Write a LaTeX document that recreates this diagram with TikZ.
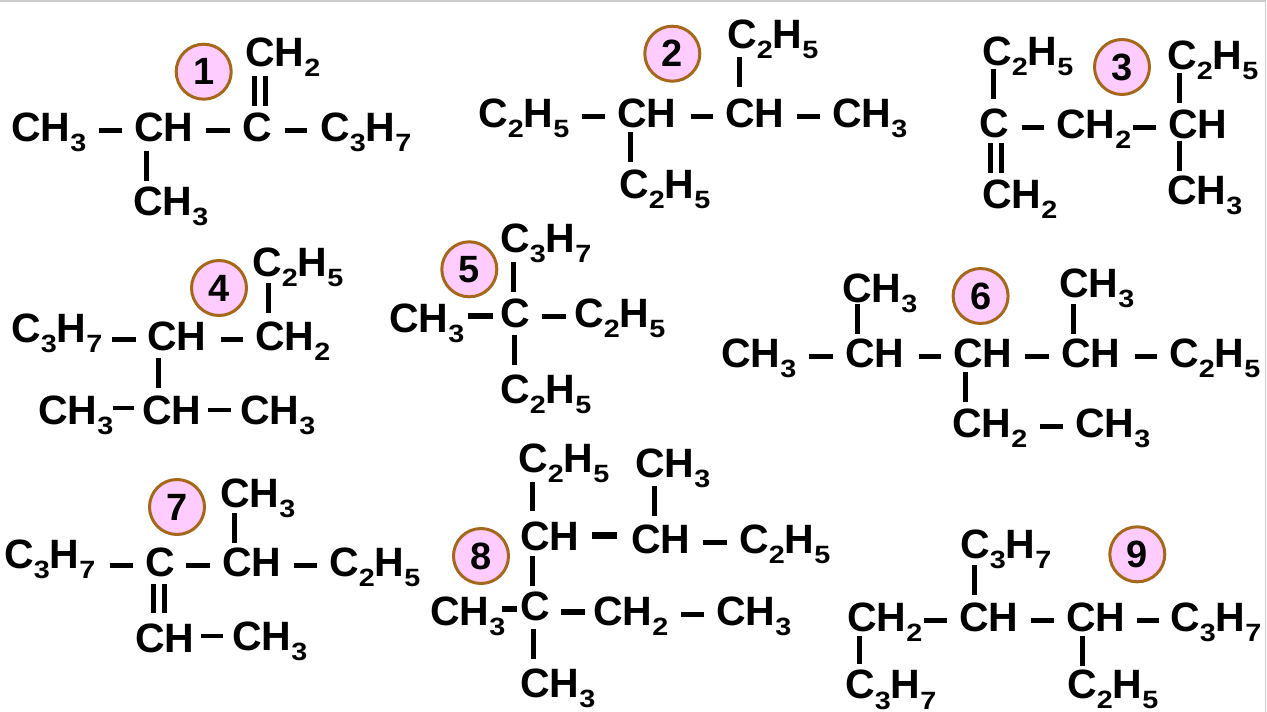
\documentclass[tikz,border=0pt]{standalone}
\usepackage{fontspec}
\setmainfont{Liberation Sans}
\definecolor{badgefill}{HTML}{FFCCFF}
\definecolor{badgeedge}{HTML}{A5681B}
\newcommand{\ssub}[1]{\raisebox{-10.5pt}{\fontsize{25}{25}\selectfont\scalebox{1.15}[1]{#1}}}
\begin{document}
\begin{tikzpicture}[x=1pt, y=-1pt,
    chem/.style={inner sep=0pt, anchor=base west, text height=22pt, text depth=0pt, font=\fontsize{41}{44}\selectfont\bfseries},
    badge/.style={circle, draw=badgeedge, fill=badgefill, line width=3pt, minimum size=55pt, inner sep=0pt, font=\fontsize{38}{42}\selectfont\bfseries},
    hbond/.style={line width=5pt, shorten <=12.5pt, shorten >=12pt},
    vbond/.style={line width=5pt},
    dbond/.style={line width=5pt, double=white, double distance=6pt}
]
    \useasboundingbox (0,0) rectangle (1267,712);
    \draw[black!20, line width=1.2pt] (0,1) -- (1265.5,1) -- (1265.5,712);

    % Molecule 1
    \node[badge] (b1) at (203.7,71.7) {1};
    \node[chem] (m1left) at (11,141) {CH\ssub{3}};
    \node[chem] (m1ch) at (134,141) {CH};
    \node[chem] (m1c) at (242,141) {C};
    \node[chem] (m1right) at (320,141) {C\ssub{3}H\ssub{7}};
    \node[chem] (m1top) at (245,66) {CH\ssub{2}};
    \node[chem] (m1low) at (133,215) {CH\ssub{3}};
    \draw[hbond] (m1left.east) -- (m1ch.west);
    \draw[hbond] (m1ch.east) -- (m1c.west);
    \draw[hbond, shorten >=13pt] (m1c.east) -- (m1right.west);
    \draw[dbond, shorten <=10pt, shorten >=13pt] ([xshift=15pt]m1top.south west) -- ([xshift=15pt]m1top.south west |- m1c.north);
    \draw[vbond, shorten <=10pt, shorten >=12pt] ([xshift=12pt]m1ch.south west) -- ([xshift=12pt]m1ch.south west |- m1low.north);

    % Molecule 2
    \node[badge] (b2) at (672.3,53.7) {2};
    \node[chem] (m2left) at (478,127) {C\ssub{2}H\ssub{5}};
    \node[chem] (m2cha) at (617,127) {CH};
    \node[chem] (m2chb) at (725,127) {CH};
    \node[chem] (m2right) at (832,127) {CH\ssub{3}};
    \node[chem] (m2top) at (727,48) {C\ssub{2}H\ssub{5}};
    \node[chem] (m2low) at (619,198) {C\ssub{2}H\ssub{5}};
    \draw[hbond] (m2left.east) -- (m2cha.west);
    \draw[hbond, shorten <=14pt] (m2cha.east) -- (m2chb.west);
    \draw[hbond] (m2chb.east) -- (m2right.west);
    \draw[vbond, shorten <=9pt, shorten >=18pt] ([xshift=12pt]m2top.south west) -- ([xshift=12pt]m2top.south west |- m2chb.north);
    \draw[vbond, shorten <=5pt, shorten >=14pt] ([xshift=13pt]m2cha.south west) -- ([xshift=13pt]m2cha.south west |- m2low.north);

    % Molecule 3
    \node[badge] (b3) at (1122,67) {3};
    \node[chem] (m3topa) at (982,65) {C\ssub{2}H\ssub{5}};
    \node[chem] (m3topb) at (1167,69) {C\ssub{2}H\ssub{5}};
    \node[chem] (m3c) at (979,137) {C};
    \node[chem] (m3mid) at (1056,138) {CH\ssub{2}};
    \node[chem] (m3ch) at (1168,138) {CH};
    \node[chem] (m3right) at (1167,204) {CH\ssub{3}};
    \node[chem] (m3low) at (982,208) {CH\ssub{2}};
    \draw[hbond] (m3mid.west -| m3c.east) -- (m3mid.west);
    \draw[hbond, shorten <=1pt] (m3mid.east) -- (m3ch.west);
    \draw[vbond, shorten <=4pt, shorten >=16pt] ([xshift=11pt]m3topa.south west) -- ([xshift=11pt]m3topa.south west |- m3c.north);
    \draw[vbond, shorten <=4pt, shorten >=13pt] ([xshift=12pt]m3topb.south west) -- ([xshift=12pt]m3topb.south west |- m3ch.north);
    \draw[vbond, shorten <=3pt, shorten >=11pt] ([xshift=11pt]m3ch.south west) -- ([xshift=11pt]m3ch.south west |- m3right.north);
    \draw[dbond, shorten <=6pt, shorten >=13pt] ([xshift=17pt]m3c.south west) -- ([xshift=17pt]m3c.south west |- m3low.north);

    % Molecule 4
    \node[badge] (b4) at (219,288) {4};
    \node[chem] (m4top) at (252,276) {C\ssub{2}H\ssub{5}};
    \node[chem] (m4left) at (11,342) {C\ssub{3}H\ssub{7}};
    \node[chem] (m4ch) at (147,350) {CH};
    \node[chem] (m4mid) at (255,350) {CH\ssub{2}};
    \node[chem] (m4lowa) at (38,424) {CH\ssub{3}};
    \node[chem] (m4lowb) at (142,424) {CH};
    \node[chem] (m4lowc) at (240,424) {CH\ssub{3}};
    \draw[hbond, shorten <=9pt, shorten >=11pt] (m4ch.west -| m4left.east) -- (m4ch.west);
    \draw[hbond, shorten <=14pt] (m4ch.east) -- (m4mid.west);
    \draw[hbond, line width=4pt, shorten <=-1pt, shorten >=8pt] ([yshift=5pt]m4lowa.east) -- ([yshift=5pt]m4lowb.west);
    \draw[hbond, line width=4pt, shorten <=6pt, shorten >=9pt] ([yshift=3pt]m4lowb.east) -- ([yshift=3pt]m4lowc.west);
    \draw[vbond, shorten <=7pt, shorten >=15pt] ([xshift=16pt]m4top.south west) -- ([xshift=16pt]m4top.south west |- m4mid.north);
    \draw[vbond, shorten <=8pt, shorten >=14pt] ([xshift=11pt]m4ch.south west) -- ([xshift=11pt]m4ch.south west |- m4lowb.north);

    % Molecule 5
    \node[badge] (b5) at (469.3,269.3) {5};
    \node[chem] (m5top) at (500,252) {C\ssub{3}H\ssub{7}};
    \node[chem] (m5left) at (389,332) {CH\ssub{3}};
    \node[chem] (m5c) at (500,327) {C};
    \node[chem] (m5right) at (574,327) {C\ssub{2}H\ssub{5}};
    \node[chem] (m5low) at (500,403) {C\ssub{2}H\ssub{5}};
    \draw[hbond, line width=6pt, shorten <=3pt, shorten >=7pt] (m5c.west -| m5left.east) -- (m5c.west);
    \draw[hbond, shorten <=12pt, shorten >=8pt] (m5c.east) -- (m5right.west);
    \draw[vbond, shorten <=10pt, shorten >=13pt] ([xshift=13pt]m5top.south west) -- ([xshift=13pt]m5top.south west |- m5c.north);
    \draw[vbond, shorten <=8pt, shorten >=16pt] ([xshift=14pt]m5c.south west) -- ([xshift=14pt]m5c.south west |- m5low.north);

    % Molecule 6
    \node[badge] (b6) at (980.6,296) {6};
    \node[chem] (m6topa) at (842,302) {CH\ssub{3}};
    \node[chem] (m6topb) at (1059,297) {CH\ssub{3}};
    \node[chem] (m6left) at (721,367) {CH\ssub{3}};
    \node[chem] (m6cha) at (845,367) {CH};
    \node[chem] (m6chb) at (953,367) {CH};
    \node[chem] (m6chc) at (1061,367) {CH};
    \node[chem] (m6right) at (1169,367) {C\ssub{2}H\ssub{5}};
    \node[chem] (m6lowa) at (952,437) {CH\ssub{2}};
    \node[chem] (m6lowb) at (1075,437) {CH\ssub{3}};
    \draw[hbond] (m6left.east) -- (m6cha.west);
    \draw[hbond, shorten <=14pt] (m6cha.east) -- (m6chb.west);
    \draw[hbond] (m6chb.east) -- (m6chc.west);
    \draw[hbond, shorten <=14pt] (m6chc.east) -- (m6right.west);
    \draw[hbond] (m6lowa.east) -- (m6lowb.west);
    \draw[vbond, shorten <=2pt, shorten >=11pt] ([xshift=15.5pt]m6topa.south west) -- ([xshift=15.5pt]m6topa.south west |- m6cha.north);
    \draw[vbond, shorten <=7pt, shorten >=11pt] ([xshift=14pt]m6topb.south west) -- ([xshift=14pt]m6topb.south west |- m6chc.north);
    \draw[vbond, shorten <=5pt, shorten >=13pt] ([xshift=12.5pt]m6chb.south west) -- ([xshift=12.5pt]m6chb.south west |- m6lowa.north);

    % Molecule 7
    \node[badge] (b7) at (177,507) {7};
    \node[chem] (m7top) at (220,507) {CH\ssub{3}};
    \node[chem] (m7left) at (4,568) {C\ssub{3}H\ssub{7}};
    \node[chem] (m7c) at (145,576) {C};
    \node[chem] (m7ch) at (222,576) {CH};
    \node[chem] (m7right) at (329,576) {C\ssub{2}H\ssub{5}};
    \node[chem] (m7lowa) at (135,652) {CH};
    \node[chem] (m7lowb) at (232,650) {CH\ssub{3}};
    \draw[hbond, shorten <=14pt] (m7c.west -| m7left.east) -- (m7c.west);
    \draw[hbond, shorten <=11pt] (m7c.east) -- (m7ch.west);
    \draw[hbond] (m7ch.east) -- (m7right.west);
    \draw[hbond, line width=4pt, shorten <=6pt, shorten >=9pt] ([yshift=5pt]m7lowa.east) -- ([yshift=5pt]m7lowa.east -| m7lowb.west);
    \draw[vbond, shorten <=6pt, shorten >=11pt] ([xshift=14pt]m7top.south west) -- ([xshift=14pt]m7top.south west |- m7ch.north);
    \draw[dbond, shorten <=8pt, shorten >=17pt] ([xshift=13.7pt]m7c.south west) -- ([xshift=13.7pt]m7c.south west |- m7lowa.north);

    % Molecule 8
    \node[badge] (b8) at (481,556) {8};
    \node[chem] (m8topa) at (518,472) {C\ssub{2}H\ssub{5}};
    \node[chem] (m8topb) at (635,477) {CH\ssub{3}};
    \node[chem] (m8cha) at (520,550) {CH};
    \node[chem] (m8chb) at (631,553) {CH};
    \node[chem] (m8right) at (739,553) {C\ssub{2}H\ssub{5}};
    \node[chem] (m8left) at (430,625) {CH\ssub{3}};
    \node[chem] (m8c) at (520,620) {C};
    \node[chem] (m8mid) at (593,625) {CH\ssub{2}};
    \node[chem] (m8end) at (716,625) {CH\ssub{3}};
    \node[chem] (m8low) at (520,697) {CH\ssub{3}};
    \draw[hbond, line width=7pt, shorten <=12pt, shorten >=14pt] ([yshift=4pt]m8cha.east) -- ([yshift=4pt]m8cha.east -| m8chb.west);
    \draw[hbond] (m8chb.east) -- (m8right.west);
    \draw[hbond, line width=6pt, shorten <=-4pt, shorten >=3pt] (m8c.west -| m8left.east) -- (m8c.west);
    \draw[hbond, line width=6pt, shorten <=11pt, shorten >=8pt] ([yshift=-3pt]m8c.east) -- ([yshift=-3pt]m8c.east -| m8mid.west);
    \draw[hbond] (m8mid.east) -- (m8end.west);
    \draw[vbond, shorten <=10pt, shorten >=17pt] ([xshift=14pt]m8topa.south west) -- ([xshift=14pt]m8topa.south west |- m8cha.north);
    \draw[vbond, shorten <=9pt, shorten >=15pt] ([xshift=19pt]m8topb.south west) -- ([xshift=19pt]m8topb.south west |- m8chb.north);
    \draw[vbond, shorten <=6pt, shorten >=12pt] ([xshift=12pt]m8cha.south west) -- ([xshift=12pt]m8cha.south west |- m8c.north);
    \draw[vbond, shorten <=9pt, shorten >=16pt] ([xshift=13pt]m8c.south west) -- ([xshift=13pt]m8c.south west |- m8low.north);

    % Molecule 9
    \node[badge] (b9) at (1137.3,554.3) {9};
    \node[chem] (m9top) at (960,558) {C\ssub{3}H\ssub{7}};
    \node[chem] (m9cha) at (847,631) {CH\ssub{2}};
    \node[chem] (m9chb) at (959,631) {CH};
    \node[chem] (m9chc) at (1066,631) {CH};
    \node[chem] (m9right) at (1170,631) {C\ssub{3}H\ssub{7}};
    \node[chem] (m9lowa) at (845,698.5) {C\ssub{3}H\ssub{7}};
    \node[chem] (m9lowb) at (1067,698) {C\ssub{2}H\ssub{5}};
    \draw[hbond, shorten <=1pt] (m9cha.east) -- (m9chb.west);
    \draw[hbond] (m9chb.east) -- (m9chc.west);
    \draw[hbond, shorten <=11pt, shorten >=11pt] (m9chc.east) -- (m9right.west);
    \draw[vbond, shorten <=7pt, shorten >=14pt] ([xshift=14pt]m9top.south west) -- ([xshift=14pt]m9top.south west |- m9chb.north);
    \draw[vbond, shorten <=5pt, shorten >=12pt] ([xshift=12pt]m9cha.south west) -- ([xshift=12pt]m9cha.south west |- m9lowa.north);
    \draw[vbond, shorten <=5pt, shorten >=10pt] ([xshift=16pt]m9chc.south west) -- ([xshift=16pt]m9chc.south west |- m9lowb.north);
\end{tikzpicture}
\end{document}
